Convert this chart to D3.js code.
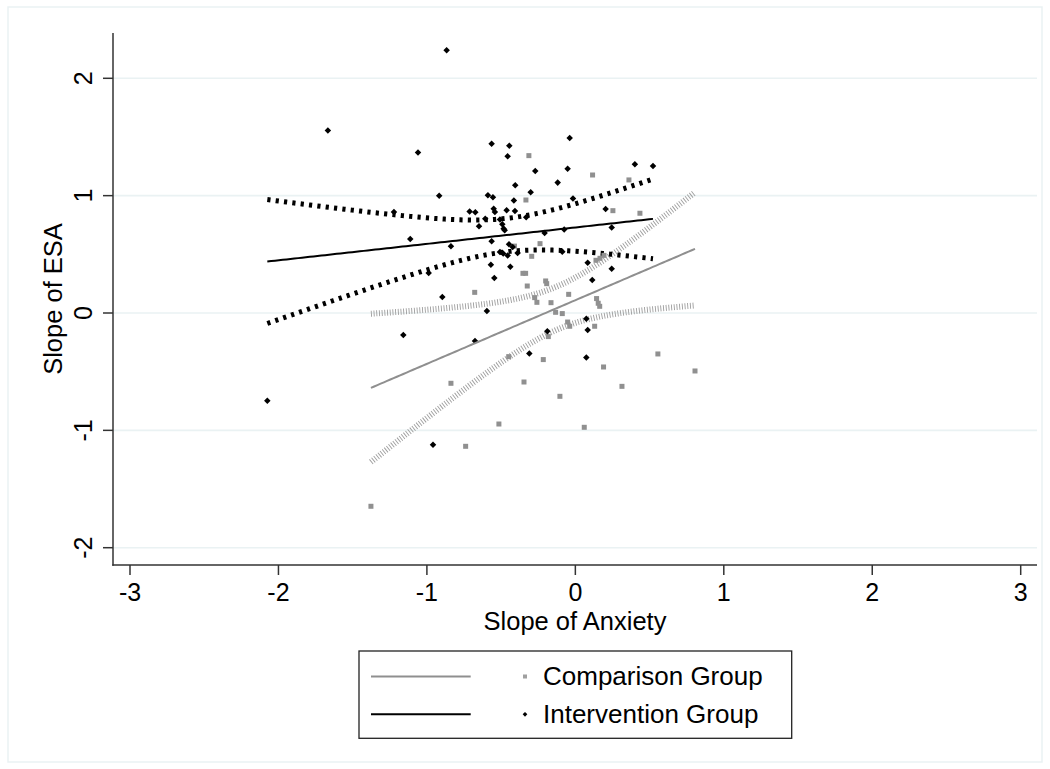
<!DOCTYPE html>
<html>
<head>
<meta charset="utf-8">
<script src="https://cdn.jsdelivr.net/npm/d3@7"></script>
<style>
body { margin: 0; background: #fff; }
svg { display: block; }
</style>
</head>
<body>
<div id="chart"></div>
<script>
// comparison group (grey squares)
var compX = [-0.313, 0.116, 0.361, 0.435, 0.253, -0.333, -0.238, -0.41, -0.294, -0.353, -0.335, -0.324,
    -0.2, -0.193, -0.045, 0.143, 0.154, 0.164, 0.139, 0.166, 0.193, -0.678, -0.274, -0.259, -0.164,
    -0.133, -0.088, -0.052, -0.038, 0.13, -0.182, -0.449, -0.216, -0.838, -0.346, -0.104, 0.19, 0.314,
    0.556, 0.806, -0.515, 0.06, -0.739, -1.377];
var compY = [1.341, 1.176, 1.134, 0.85, 0.872, 0.963, 0.591, 0.57, 0.483, 0.338, 0.338, 0.23,
    0.273, 0.25, 0.159, 0.123, 0.083, 0.057, 0.449, 0.466, 0.491, 0.176, 0.131, 0.091, 0.088,
    0.006, -0.005, -0.077, -0.113, -0.113, -0.201, -0.372, -0.397, -0.599, -0.588, -0.71, -0.46, -0.625,
    -0.349, -0.494, -0.946, -0.974, -1.136, -1.647];

// intervention group (black diamonds)
var intX = [-0.867, -1.667, -1.06, -0.564, -0.445, -0.456, -0.038, -0.27, -0.052, -0.405, -0.119, -0.301,
    0.401, 0.523, -0.917, -0.589, -0.555, -0.414, -0.016, -1.222, -0.712, -0.674, -0.55, -0.542, -0.463,
    -0.407, -0.607, -0.649, -0.508, -0.492, -0.483, -0.476, -0.331, 0.204, 0.245, -0.207, -0.075, -1.112,
    -0.564, -0.838, -0.447, -0.422, -0.508, -0.486, -0.456, -0.389, -0.088, -0.988, -0.569, -0.438, 0.083,
    0.245, -0.546, 0.114, -0.896, -0.596, -1.159, -0.676, -0.189, -0.31, 0.074, 0.083, 0.074, -0.959, -2.075];
var intY = [2.239, 1.555, 1.367, 1.443, 1.426, 1.335, 1.491, 1.21, 1.23, 1.088, 1.111, 1.029,
    1.267, 1.253, 1.0, 1.003, 0.986, 0.958, 0.975, 0.861, 0.864, 0.858, 0.889, 0.861, 0.875,
    0.869, 0.804, 0.739, 0.796, 0.756, 0.719, 0.705, 0.816, 0.886, 0.728, 0.682, 0.711, 0.631,
    0.611, 0.568, 0.585, 0.562, 0.52, 0.506, 0.489, 0.511, 0.523, 0.341, 0.412, 0.395, 0.429,
    0.378, 0.298, 0.281, 0.136, 0.017, -0.187, -0.239, -0.156, -0.346, -0.048, -0.145, -0.38, -1.122, -0.747];

var xTicks = [-3, -2, -1, 0, 1, 2, 3];
var yTicks = [-2, -1, 0, 1, 2];
var groupNames = ["Comparison Group", "Intervention Group"];
var tCrit = [2.018, 1.997];   // t(.975, n-2)

var width = 1050, height = 769;
var font = "'Liberation Sans', Arial, Helvetica, sans-serif";
var box = { left: 113, right: 1037, top: 33, bottom: 565 };

var x = d3.scaleLinear().domain([-3, 3]).range([130, 1020.7]);
var y = d3.scaleLinear().domain([-2, 2]).range([547.7, 78.3]);

var svg = d3.select("#chart").append("svg")
    .attr("width", width)
    .attr("height", height)
    .style("background", "#fff");

// outer frame
svg.append("rect")
    .attr("x", 8).attr("y", 7)
    .attr("width", 1034).attr("height", 755)
    .attr("fill", "none")
    .attr("stroke", "#eaf2f3")
    .attr("stroke-width", 1.5);

// grid
svg.append("g").selectAll("line")
    .data(yTicks)
    .enter().append("line")
    .attr("x1", box.left).attr("x2", box.right)
    .attr("y1", function(d) { return y(d) })
    .attr("y2", function(d) { return y(d) })
    .attr("stroke", "#eaf2f3")
    .attr("stroke-width", 1.6);

// linear fit + 95% CI of the mean, like lfitci
function fit(xs, ys, t) {
    var n = xs.length;
    var mx = d3.mean(xs), my = d3.mean(ys);
    var sxx = 0, sxy = 0;
    xs.forEach(function(v, i) {
        sxx += (v - mx) * (v - mx);
        sxy += (v - mx) * (ys[i] - my);
    });
    var b = sxy / sxx, a = my - b * mx;
    var sse = 0;
    xs.forEach(function(v, i) {
        var r = ys[i] - (a + b * v);
        sse += r * r;
    });
    var s = Math.sqrt(sse / (n - 2));
    var lo = d3.min(xs), hi = d3.max(xs);
    var pts = d3.range(0, 101).map(function(k) {
        var xv = lo + (hi - lo) * k / 100;
        var yh = a + b * xv;
        var se = s * Math.sqrt(1 / n + (xv - mx) * (xv - mx) / sxx);
        return { x: xv, y: yh, lo: yh - t * se, hi: yh + t * se };
    });
    return pts;
}

var compFit = fit(compX, compY, tCrit[0]);
var intFit = fit(intX, intY, tCrit[1]);

var lineY = d3.line().x(function(d) { return x(d.x) }).y(function(d) { return y(d.y) });
var lineLo = d3.line().x(function(d) { return x(d.x) }).y(function(d) { return y(d.lo) });
var lineHi = d3.line().x(function(d) { return x(d.x) }).y(function(d) { return y(d.hi) });

var g = svg.append("g");

// comparison CI (thin hatched look)
[lineLo, lineHi].forEach(function(fn) {
    g.append("path")
        .attr("d", fn(compFit))
        .attr("fill", "none")
        .attr("stroke", "#9d9d9d")
        .attr("stroke-width", 6)
        .attr("stroke-dasharray", "0.9,1.8");
});

// intervention CI (thick short dashes)
[lineLo, lineHi].forEach(function(fn) {
    g.append("path")
        .attr("d", fn(intFit))
        .attr("fill", "none")
        .attr("stroke", "#000")
        .attr("stroke-width", 5)
        .attr("stroke-dasharray", "3.2,5.2");
});

// points
var comp = compX.map(function(v, i) { return { x: v, y: compY[i] } });
var inter = intX.map(function(v, i) { return { x: v, y: intY[i] } });

g.append("g").selectAll("rect")
    .data(comp)
    .enter().append("rect")
    .attr("x", function(d) { return x(d.x) - 2.5 })
    .attr("y", function(d) { return y(d.y) - 2.5 })
    .attr("width", 5).attr("height", 5)
    .attr("fill", "#909090");

var diamond = d3.symbol().type(d3.symbolDiamond2).size(27);
g.append("g").selectAll("path")
    .data(inter)
    .enter().append("path")
    .attr("d", diamond)
    .attr("transform", function(d) { return "translate(" + x(d.x) + "," + y(d.y) + ")" })
    .attr("fill", "#000");

// fitted lines
g.append("path")
    .attr("d", lineY(compFit))
    .attr("fill", "none")
    .attr("stroke", "#8f8f8f")
    .attr("stroke-width", 2);
g.append("path")
    .attr("d", lineY(intFit))
    .attr("fill", "none")
    .attr("stroke", "#000")
    .attr("stroke-width", 2);

// axes
var ax = svg.append("g").attr("stroke", "#333").attr("stroke-width", 1.5);
ax.append("line").attr("x1", box.left).attr("x2", box.left).attr("y1", box.top).attr("y2", box.bottom + 0.75);
ax.append("line").attr("x1", box.left - 0.75).attr("x2", box.right).attr("y1", box.bottom).attr("y2", box.bottom);

ax.selectAll(".xt").data(xTicks).enter().append("line")
    .attr("x1", function(d) { return x(d) }).attr("x2", function(d) { return x(d) })
    .attr("y1", box.bottom).attr("y2", box.bottom + 10);
ax.selectAll(".yt").data(yTicks).enter().append("line")
    .attr("x1", box.left).attr("x2", box.left - 10)
    .attr("y1", function(d) { return y(d) }).attr("y2", function(d) { return y(d) });

svg.append("g").selectAll("text")
    .data(xTicks)
    .enter().append("text")
    .attr("x", function(d) { return x(d) })
    .attr("y", 601)
    .attr("text-anchor", "middle")
    .attr("font-family", font)
    .attr("font-size", 25)
    .text(function(d) { return d });

svg.append("g").selectAll("text")
    .data(yTicks)
    .enter().append("text")
    .attr("transform", function(d) { return "translate(92," + y(d) + ") rotate(-90)" })
    .attr("text-anchor", "middle")
    .attr("font-family", font)
    .attr("font-size", 25)
    .text(function(d) { return d });

svg.append("text")
    .attr("x", (box.left + box.right) / 2)
    .attr("y", 630)
    .attr("text-anchor", "middle")
    .attr("font-family", font)
    .attr("font-size", 25.5)
    .text("Slope of Anxiety");

svg.append("text")
    .attr("transform", "translate(61.5," + (box.top + box.bottom) / 2 + ") rotate(-90)")
    .attr("text-anchor", "middle")
    .attr("font-family", font)
    .attr("font-size", 25.5)
    .text("Slope of ESA");

// legend
var leg = svg.append("g");
leg.append("rect")
    .attr("x", 359).attr("y", 651)
    .attr("width", 432.7).attr("height", 87.3)
    .attr("fill", "#fff")
    .attr("stroke", "#222")
    .attr("stroke-width", 1.3);

var legY = [676.5, 714.3];
var legColor = ["#8f8f8f", "#000"];
groupNames.forEach(function(name, i) {
    leg.append("line")
        .attr("x1", 371).attr("x2", 470.7)
        .attr("y1", legY[i]).attr("y2", legY[i])
        .attr("stroke", legColor[i])
        .attr("stroke-width", 2);
    if (i === 0) {
        leg.append("rect")
            .attr("x", 523).attr("y", legY[i] - 2)
            .attr("width", 4).attr("height", 4)
            .attr("fill", "#a0a0a0");
    } else {
        leg.append("path")
            .attr("d", d3.symbol().type(d3.symbolDiamond2).size(14))
            .attr("transform", "translate(525," + legY[i] + ")")
            .attr("fill", "#000");
    }
    leg.append("text")
        .attr("x", 543)
        .attr("y", legY[i] + 8.7)
        .attr("font-family", font)
        .attr("font-size", 26)
        .text(name);
});
</script>
</body>
</html>
